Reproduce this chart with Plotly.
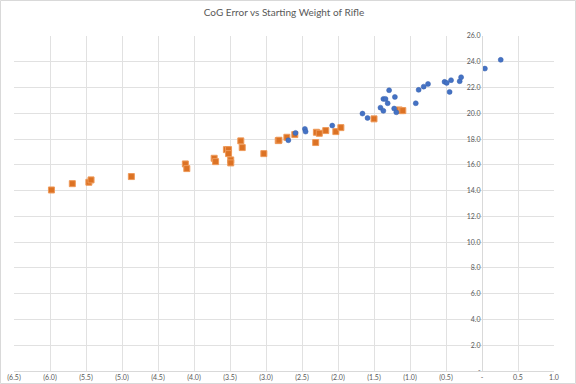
import plotly.graph_objects as go

# Blue series (circles)
blue_x = [-2.69, -2.59, -2.46, -2.45, -2.08, -1.66, -1.59, -1.41, -1.37, -1.37, -1.34,
          -1.31, -1.29, -1.21, -1.22, -1.19, -0.92, -0.88, -0.81, -0.75, -0.52, -0.49,
          -0.45, -0.43, -0.31, -0.29, 0.04, 0.26]
blue_y = [17.91, 18.48, 18.79, 18.58, 19.05, 19.98, 19.64, 20.44, 20.19, 21.12, 21.12,
          20.78, 21.79, 21.27, 20.37, 20.08, 20.78, 21.82, 22.07, 22.28, 22.44, 22.36,
          21.66, 22.57, 22.49, 22.80, 23.47, 24.15]

# Orange series (squares)
orange_x = [-5.98, -5.69, -5.46, -5.43, -4.87, -4.12, -4.10, -3.72, -3.70, -3.55, -3.52,
            -3.52, -3.49, -3.49, -3.35, -3.33, -3.03, -2.83, -2.82, -2.71, -2.60, -2.30,
            -2.26, -2.31, -2.17, -2.03, -1.96, -1.50, -1.15, -1.12, -1.10]
orange_y = [14.05, 14.54, 14.65, 14.83, 15.09, 16.07, 15.71, 16.51, 16.25, 17.18, 17.18,
            16.87, 16.38, 16.15, 17.86, 17.34, 16.87, 17.88, 17.91, 18.14, 18.35, 18.53,
            18.45, 17.73, 18.66, 18.58, 18.89, 19.57, 20.26, 20.21, 20.21]

x_tickvals = [-6.5, -6.0, -5.5, -5.0, -4.5, -4.0, -3.5, -3.0, -2.5, -2.0, -1.5, -1.0, -0.5, 0.0, 0.5, 1.0]
x_ticktext = ["(6.5)", "(6.0)", "(5.5)", "(5.0)", "(4.5)", "(4.0)", "(3.5)", "(3.0)", "(2.5)",
              "(2.0)", "(1.5)", "(1.0)", "(0.5)", "-", "0.5", "1.0"]
y_tickvals = [0, 2, 4, 6, 8, 10, 12, 14, 16, 18, 20, 22, 24, 26]
y_ticktext = ["-", "2.0", "4.0", "6.0", "8.0", "10.0", "12.0", "14.0", "16.0", "18.0",
              "20.0", "22.0", "24.0", "26.0"]

title_text = "CoG Error vs Starting Weight of Rifle"

fig = go.Figure()
fig.add_trace(go.Scatter(
    x=orange_x, y=orange_y, mode="markers", name="Orange",
    marker=dict(symbol="square", size=6, color="#DC7224",
                line=dict(color="#EE9A5A", width=1)),
))
fig.add_trace(go.Scatter(
    x=blue_x, y=blue_y, mode="markers", name="Blue",
    marker=dict(symbol="circle", size=5, color="#4472C4",
                line=dict(color="#3A62AE", width=0.5)),
))

W, H = 576, 384
L, R, T, B = 14, 22, 36, 13
pw, ph = W - L - R, H - T - B
x0_val, x1_val = -6.5, 1.0
ypos = (0 - x0_val) / (x1_val - x0_val)

fig.update_layout(
    width=W, height=H,
    margin=dict(l=L, r=R, t=T, b=B, pad=0, autoexpand=False),
    paper_bgcolor="white", plot_bgcolor="white",
    showlegend=False,
    font=dict(family="Lato, Open Sans, sans-serif", color="#595959"),
    title=dict(text=title_text, x=0.5, xref="paper", xanchor="center",
               y=1 - 12 / H, yanchor="middle", yref="container",
               font=dict(size=10, color="#595959"), automargin=False),
    xaxis=dict(range=[x0_val, x1_val], tickvals=x_tickvals, ticktext=x_ticktext,
               showgrid=True, gridcolor="#E1E1E1", gridwidth=1,
               zeroline=False, showline=True, linecolor="#D9D9D9",
               automargin=False,
               tickfont=dict(size=7, color="#595959"), ticks=""),
    yaxis=dict(range=[0, 26], tickvals=y_tickvals, ticktext=y_ticktext,
               showgrid=True, gridcolor="#E1E1E1", gridwidth=1,
               zeroline=False, showline=True, linecolor="#D9D9D9",
               anchor="free", position=ypos, automargin=False,
               tickfont=dict(size=7, color="#595959"), ticks=""),
)

fig.add_shape(type="rect", xref="paper", yref="paper",
              x0=(0.5 - L) / pw, x1=(W - 0.5 - L) / pw,
              y0=(0.5 - B) / ph, y1=(H - 0.5 - B) / ph,
              line=dict(color="#D9D9D9", width=1), fillcolor="rgba(0,0,0,0)", layer="below")

fig.write_html("out.html",
               config={"displayModeBar": False},
               post_script="document.body.style.margin='0';document.body.style.overflow='hidden';")
